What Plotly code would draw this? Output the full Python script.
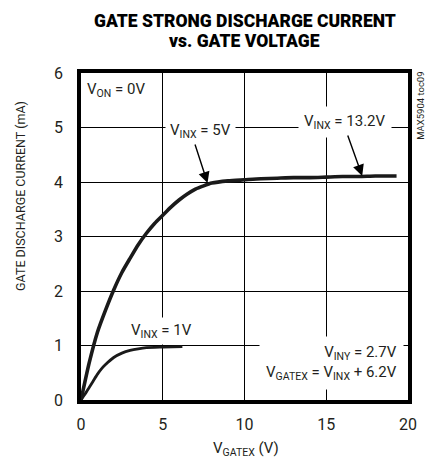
import plotly.graph_objects as go

# Data
vgatex_main = [0, 0.5, 1, 1.5, 2, 2.5, 3, 3.5, 4, 4.5, 5, 5.5, 6, 6.5, 7, 7.5, 8, 9, 10, 11, 12, 13, 14, 15, 16, 17, 18, 19.3]
idis_main = [0, 0.68, 1.24, 1.65, 2.02, 2.34, 2.6, 2.85, 3.06, 3.24, 3.39, 3.54, 3.67, 3.78, 3.87, 3.93, 3.98, 4.02, 4.04, 4.06, 4.07, 4.08, 4.08, 4.09, 4.10, 4.10, 4.11, 4.11]

vgatex_1v = [0, 0.25, 0.5, 0.75, 1, 1.25, 1.5, 2, 2.5, 3, 3.5, 4, 5, 6.2]
idis_1v = [0, 0.11, 0.23, 0.35, 0.47, 0.57, 0.65, 0.78, 0.86, 0.91, 0.94, 0.96, 0.97, 0.98]

x_ticks = [0, 5, 10, 15, 20]
y_ticks = [0, 1, 2, 3, 4, 5, 6]

FONT = "Roboto, Liberation Sans, sans-serif"
TXT = "#231f20"

fig = go.Figure()
fig.add_trace(go.Scatter(x=vgatex_main, y=idis_main, mode="lines",
                         line=dict(color="#1a1a1a", width=3.6, shape="spline", smoothing=0.6),
                         showlegend=False, hoverinfo="skip"))
fig.add_trace(go.Scatter(x=vgatex_1v, y=idis_1v, mode="lines",
                         line=dict(color="#1a1a1a", width=2.8, shape="spline", smoothing=0.6),
                         showlegend=False, hoverinfo="skip"))

ann_font = dict(family=FONT, size=15, color=TXT)
title_font = dict(family=FONT, size=17.5, color="black", weight=900)
annotations = [
    # title
    dict(text="GATE STRONG DISCHARGE CURRENT", x=0.5, y=1 + (73 - 21) / 327, xref="paper", yref="paper",
         xanchor="center", yanchor="middle", showarrow=False, font=title_font),
    dict(text="vs. GATE VOLTAGE", x=0.5, y=1 + (73 - 41) / 327, xref="paper", yref="paper",
         xanchor="center", yanchor="middle", showarrow=False, font=title_font),
    dict(text="V<sub>ON</sub> = 0V", x=0.25, y=5.68, xref="x", yref="y", xanchor="left", yanchor="middle",
         showarrow=False, font=ann_font),
    dict(text="V<sub>INX</sub> = 5V", x=7.3, y=4.94, xref="x", yref="y", xanchor="center", yanchor="middle",
         showarrow=False, font=ann_font, bgcolor="white", borderpad=4),
    dict(text="V<sub>INX</sub> = 13.2V", x=16.15, y=5.1, xref="x", yref="y", xanchor="center", yanchor="middle",
         showarrow=False, font=ann_font, bgcolor="white", borderpad=5),
    dict(text="V<sub>INX</sub> = 1V", x=4.9, y=1.26, xref="x", yref="y", xanchor="center", yanchor="middle",
         showarrow=False, font=ann_font, bgcolor="white", borderpad=3),
    dict(text="V<sub>INY</sub> = 2.7V<br>V<sub>GATEX</sub> = V<sub>INX</sub> + 6.2V", x=19.75, y=0.67,
         xref="x", yref="y", xanchor="right", yanchor="middle", align="right",
         showarrow=False, font=ann_font, bgcolor="white", borderpad=6),
    # arrows
    dict(text="", x=7.74, y=3.98, xref="x", yref="y", ax=-13, ay=-40, axref="pixel", ayref="pixel",
         showarrow=True, arrowhead=2, arrowsize=1.6, arrowwidth=1.4, arrowcolor="black"),
    dict(text="", x=17.2, y=4.11, xref="x", yref="y", ax=-15, ay=-42, axref="pixel", ayref="pixel",
         showarrow=True, arrowhead=2, arrowsize=1.6, arrowwidth=1.4, arrowcolor="black"),
    # y-axis title
    dict(text="GATE DISCHARGE CURRENT (mA)", x=-0.1835, y=0.624, xref="paper", yref="paper",
         xanchor="center", yanchor="middle",
         textangle=-90, showarrow=False, font=dict(family=FONT, size=12.5, color=TXT)),
    # x-axis title
    dict(text="V<sub>GATEX</sub> (V)", x=0.505, y=-0.112, xref="paper", yref="paper",
         xanchor="center", yanchor="top",
         showarrow=False, font=dict(family=FONT, size=15, color=TXT)),
    # side code
    dict(text="MAX5904 toc09", x=1.04, y=0.9, xref="paper", yref="paper", textangle=-90,
         xanchor="center", yanchor="middle",
         showarrow=False, font=dict(family=FONT, size=9.5, color=TXT)),
]

fig.update_layout(
    width=432, height=461,
    margin=dict(l=81, r=24, t=73, b=61),
    paper_bgcolor="white", plot_bgcolor="white",
    annotations=annotations,
    xaxis=dict(range=[0, 20], tickvals=x_ticks, showgrid=True, gridcolor="black", gridwidth=1,
               showline=True, linecolor="black", linewidth=3.5, mirror=True, zeroline=False,
               ticks="", tickfont=dict(family=FONT, size=16, color=TXT), ticklabelstandoff=7,
               fixedrange=True),
    yaxis=dict(range=[0, 6], tickvals=y_ticks, showgrid=True, gridcolor="black", gridwidth=1,
               showline=True, linecolor="black", linewidth=3.5, mirror=True, zeroline=False,
               ticks="", tickfont=dict(family=FONT, size=16, color=TXT), ticklabelstandoff=11,
               fixedrange=True),
)

fig.write_html("out.html", config={"displayModeBar": False},
               post_script="document.body.style.margin='0';document.body.style.padding='0';")
